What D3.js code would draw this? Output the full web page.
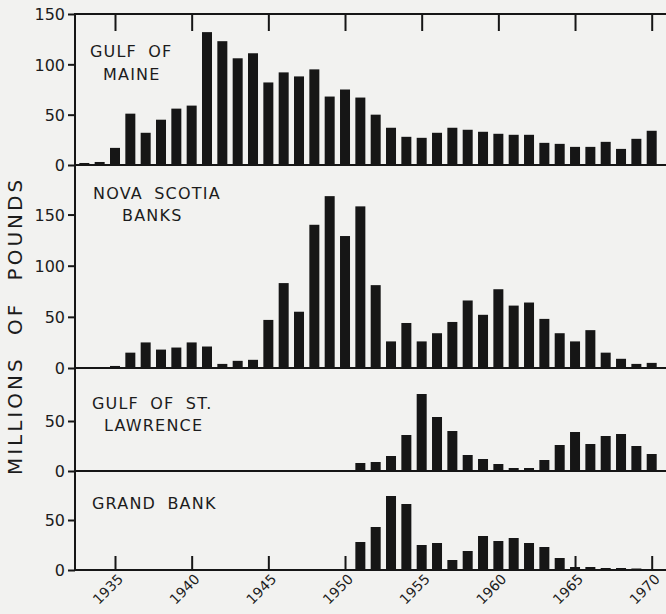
<!DOCTYPE html>
<html><head><meta charset="utf-8">
<script src="https://cdn.jsdelivr.net/npm/d3@7"></script>
<style>
html,body{margin:0;padding:0;background:#f2f2f0;}
svg{display:block;}
text{font-family:"DejaVu Sans","Liberation Sans",sans-serif;fill:#1c1c1c;}
</style></head>
<body>
<svg id="c" width="666" height="614"></svg>
<script>
// ---- data ----
const yearsMaine = d3.range(1933, 1971);
const gulfOfMaine = [2,3,17,51,32,45,56,59,132,123,106,111,82,92,88,95,68,75,67,50,37,28,27,32,37,35,33,31,30,30,22,21,18,18,23,16,26,34];
const yearsNova = d3.range(1935, 1971);
const novaScotia = [2,15,25,18,20,25,21,4,7,8,47,83,55,140,168,129,158,81,26,44,26,34,45,66,52,77,61,64,48,34,26,37,15,9,4,5];
const yearsStL = d3.range(1951, 1971);
const gulfStLawrence = [8,9,15,36,77,54,40,16,12,7,3,3,11,26,39,27,35,37,25,17];
const yearsGrand = d3.range(1951, 1970);
const grandBank = [28,43,74,66,25,27,10,19,34,29,32,27,23,12,3,3,2,2,1.5];
const xTickYears = [1935,1940,1945,1950,1955,1960,1965,1970];

const panels = [
  {name:["GULF OF","MAINE"], years:yearsMaine, values:gulfOfMaine, zero:165, pxPer:151/150, ticks:[0,50,100,150], labelY:[57,80], labelX:[90,103]},
  {name:["NOVA SCOTIA","BANKS"], years:yearsNova, values:novaScotia, zero:368, pxPer:1.023, ticks:[0,50,100,150], labelY:[199,221], labelX:[93,122]},
  {name:["GULF OF ST.","LAWRENCE"], years:yearsStL, values:gulfStLawrence, zero:471, pxPer:1.0, ticks:[0,50], labelY:[409,431], labelX:[92,104]},
  {name:["GRAND BANK"], years:yearsGrand, values:grandBank, zero:570, pxPer:1.0, ticks:[0,50], labelY:[509], labelX:[92]}
];

const svg = d3.select("#c");
const ink = "#161616";
const x = d3.scaleLinear().domain([1935,1970]).range([115,651.7]);
const right = 666;
const barW = 10;

panels.forEach((p,i)=>{
  const y = d3.scaleLinear().domain([0,50]).range([p.zero, p.zero - 50*p.pxPer]);
  const g = svg.append("g");
  g.selectAll("rect").data(p.years.map((yr,k)=>({yr, v:p.values[k]}))).join("rect")
    .attr("x", d=>x(d.yr)-barW/2).attr("width", barW)
    .attr("y", d=>y(d.v)).attr("height", d=>y(0)-y(d.v))
    .attr("fill", ink);
  const yAxis = d3.axisLeft(y).tickValues(p.ticks).tickSize(7).tickPadding(3).tickFormat(d3.format("d"));
  const ga = svg.append("g").attr("transform","translate(75,0)").call(yAxis);
  ga.select(".domain").remove();
  ga.selectAll("line").attr("stroke",ink).attr("stroke-width",2);
  ga.selectAll("text").attr("font-size",16).attr("fill","#1c1c1c").style("font-family","'DejaVu Sans',sans-serif").attr("dy","0.36em");
  svg.append("line").attr("x1",75).attr("x2",right).attr("y1",y(0)).attr("y2",y(0)).attr("stroke",ink).attr("stroke-width",2);
  p.name.forEach((t,k)=>{
    svg.append("text").attr("x",p.labelX[k]).attr("y",p.labelY[k]).attr("font-size",16)
      .attr("letter-spacing","1.2px").attr("word-spacing","5px").text(t);
  });
});

svg.append("line").attr("x1",75).attr("x2",right).attr("y1",14).attr("y2",14).attr("stroke",ink).attr("stroke-width",2);
svg.append("line").attr("x1",75).attr("x2",75).attr("y1",13).attr("y2",571).attr("stroke",ink).attr("stroke-width",2);

const topAx = d3.axisBottom(x).tickValues(xTickYears).tickSize(17).tickFormat("");
const gt = svg.append("g").attr("transform","translate(0,14)").call(topAx);
gt.select(".domain").remove();
gt.selectAll("line").attr("stroke",ink).attr("stroke-width",2);

const botAx = d3.axisTop(x).tickValues(xTickYears).tickSize(14).tickFormat("");
const gb = svg.append("g").attr("transform","translate(0,570)").call(botAx);
gb.select(".domain").remove();
gb.selectAll("line").attr("stroke",ink).attr("stroke-width",2);
svg.selectAll(".xl").data(xTickYears).join("text").attr("class","xl")
  .attr("transform", d=>`translate(${x(d)+9},${580}) rotate(-45)`)
  .attr("text-anchor","end").attr("font-size",14).text(d=>d);

svg.append("text").attr("transform","translate(22,326) rotate(-90)")
  .attr("text-anchor","middle").attr("font-size",20).attr("letter-spacing","3px")
  .attr("word-spacing","12px").text("MILLIONS OF POUNDS");
</script>
</body></html>
